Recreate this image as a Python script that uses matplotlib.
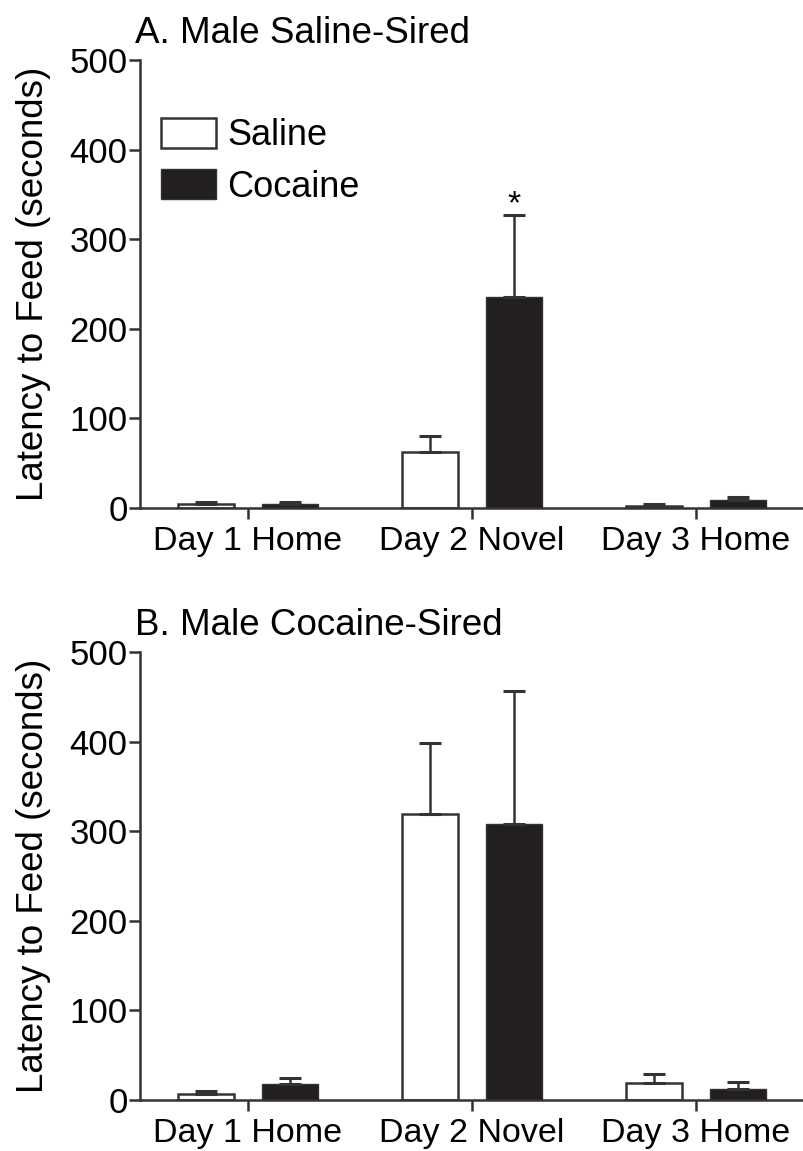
import matplotlib
matplotlib.use("Agg")
import matplotlib.pyplot as plt
import numpy as np
from matplotlib.patches import Patch

plt.rcParams['font.family'] = ['Liberation Sans', 'DejaVu Sans']

categories = ["Day 1 Home", "Day 2 Novel", "Day 3 Home"]
groups = ["Saline", "Cocaine"]

# Panel A: Male Saline-Sired
a_saline = [5, 62.5, 2.5]
a_saline_err = [2, 17.5, 2]
a_cocaine = [4.5, 235, 9]
a_cocaine_err = [2.5, 92, 3.5]

# Panel B: Male Cocaine-Sired
b_saline = [6.3, 319, 18.6]
b_saline_err = [3.7, 79, 10.4]
b_cocaine = [17.5, 308, 12.6]
b_cocaine_err = [7.5, 149, 7.4]

titles = ["A. Male Saline-Sired", "B. Male Cocaine-Sired"]
yticks = [0, 100, 200, 300, 400, 500]

W, H = 804, 1151
fig = plt.figure(figsize=(W / 100, H / 100), dpi=100)

def px_axes(left, top, right, bottom):
    return fig.add_axes([left / W, 1 - bottom / H, (right - left) / W, (bottom - top) / H])

axA = px_axes(140, 60, 804, 508)
axB = px_axes(140, 652, 804, 1100)

FS = 24.5
FS_Y = 25
FS_LAB = 26.5
FS_T = 26.5
FS_LEG = 26
edge = "#333333"
dark = "#231f20"
x = np.arange(len(categories))
bw = 0.254
off = 0.1875

for ax, sal, sale, coc, coce, title in [
    (axA, a_saline, a_saline_err, a_cocaine, a_cocaine_err, titles[0]),
    (axB, b_saline, b_saline_err, b_cocaine, b_cocaine_err, titles[1]),
]:
    ax.bar(x - off, sal, bw, color="white", edgecolor=edge, linewidth=1.8, zorder=2,
           yerr=[np.zeros(3), sale], error_kw=dict(ecolor=edge, elinewidth=1.8, capsize=8, capthick=2.2))
    ax.bar(x + off, coc, bw, color=dark, edgecolor=edge, linewidth=1.0, zorder=2,
           yerr=[np.zeros(3), coce], error_kw=dict(ecolor=edge, elinewidth=1.8, capsize=8, capthick=2.2))
    ax.set_xlim(-0.482, 2.482)
    ax.set_ylim(0, 500)
    ax.set_yticks(yticks)
    ax.set_xticks(x)
    ax.set_xticklabels(categories, fontsize=FS)
    ax.tick_params(axis='y', labelsize=FS_Y, length=8, width=1.8, color=edge, pad=1)
    ax.tick_params(axis='x', length=8, width=1.8, color=edge, pad=5)
    for s in ["top", "right"]:
        ax.spines[s].set_visible(False)
    for s in ["left", "bottom"]:
        ax.spines[s].set_linewidth(1.8)
        ax.spines[s].set_color(edge)
    ax.set_ylabel("Latency to Feed (seconds)", fontsize=FS_LAB, labelpad=13)
    ax.text(-0.008, 1.021, title, transform=ax.transAxes, fontsize=FS_T, ha="left", va="bottom")

axA.text(1 + off, a_cocaine[1] + a_cocaine_err[1] - 6, "*", ha="center", va="bottom", fontsize=FS)

handles = [Patch(facecolor="white", edgecolor=edge, linewidth=1.8, label="Saline"),
           Patch(facecolor=dark, edgecolor=edge, linewidth=1.0, label="Cocaine")]
axA.legend(handles=handles, loc="upper left", bbox_to_anchor=(-0.0166, 0.944), frameon=False,
           fontsize=FS_LEG, handlelength=1.52, handleheight=0.9, labelspacing=0.45, handletextpad=0.3)

fig.savefig("out.png", dpi=100)
